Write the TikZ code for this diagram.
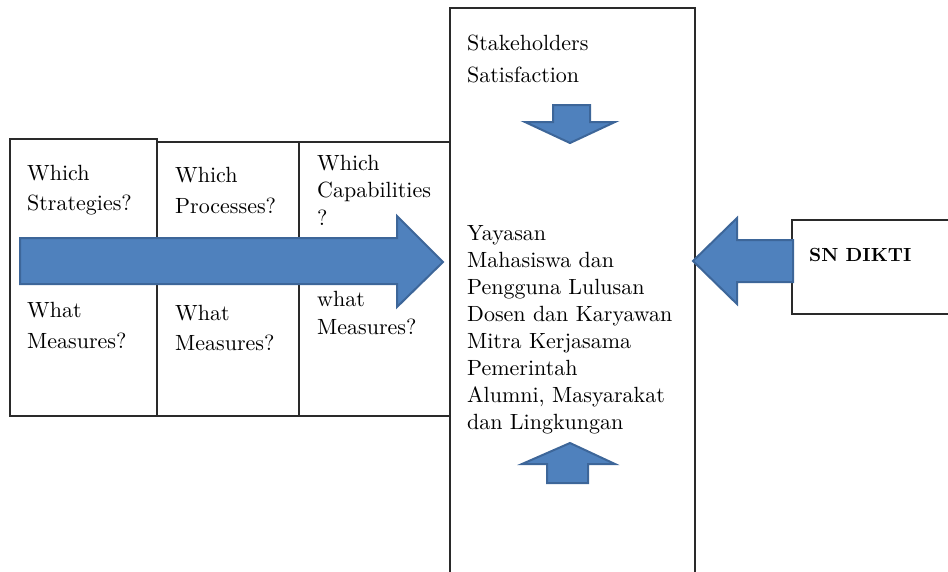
\documentclass[tikz,border=0pt]{standalone}
\usepackage{fontspec}
\setmainfont{lmroman10-regular.otf}[BoldFont=lmroman10-bold.otf]
\usepackage{tikz}
\definecolor{arrfill}{HTML}{4F81BD}
\definecolor{arrline}{HTML}{3D6699}
\definecolor{boxline}{HTML}{2A2A2A}
\begin{document}
\begin{tikzpicture}[x=1pt,y=-1pt,
  boxst/.style={draw=boxline,line width=1.3pt},
  blockarrow/.style={fill=arrfill,draw=arrline,line width=2pt,line join=miter},
  txt/.style={anchor=north west,inner sep=0pt,align=left,font=\fontsize{22}{#1}\selectfont},
  txt/.default=30]
\useasboundingbox (0,0) rectangle (948,571);
\clip (0,0) rectangle (948,571);
% boxes
\draw[boxst] (10,139) rectangle (157,416);
\draw[boxst] (157,142) rectangle (299,416);
\draw[boxst] (299,142) rectangle (450,416);
\draw[boxst] (450,8) rectangle (695,580);
\draw[boxst] (792,220) rectangle (960,314);
% texts
\node[txt=30] (s1) at (27,165) {Which\\Strategies?};
\node[txt=31] (s2) at (175,167) {Which\\Processes?};
\node[txt=27.5] (s3) at (317,155) {Which\\Capabilities\\?};
\node[txt=31] (m1) at (27,302) {What\\Measures?};
\node[txt=30] (m2) at (175,305) {What\\Measures?};
\node[txt=28] (m3) at (317,291) {what\\Measures?};
\node[txt=32] (sh) at (467,35) {Stakeholders\\Satisfaction};
\node[txt=27] (st) at (467,225.5) {Yayasan\\Mahasiswa dan\\Pengguna Lulusan\\Dosen dan Karyawan\\Mitra Kerjasama\\Pemerintah\\Alumni, Masyarakat\\dan Lingkungan};
\node[anchor=north west,inner sep=0pt,font=\fontsize{19}{24}\selectfont\bfseries] (sn) at (809,248) {SN DIKTI};
% block arrows
\draw[blockarrow] (20,238) -- (397,238) -- (397,216) -- (443,262) -- (397,307) -- (397,284) -- (20,284) -- cycle;
\draw[blockarrow] (793,240) -- (737,240) -- (737,218) -- (693,261) -- (737,304) -- (737,282) -- (793,282) -- cycle;
\draw[blockarrow] (553,105) -- (590,105) -- (590,122) -- (615,122) -- (570,143) -- (525,122) -- (553,122) -- cycle;
\draw[blockarrow] (570,443) -- (615,464) -- (588,464) -- (588,483) -- (547,483) -- (547,464) -- (522,464) -- cycle;
\end{tikzpicture}
\end{document}
